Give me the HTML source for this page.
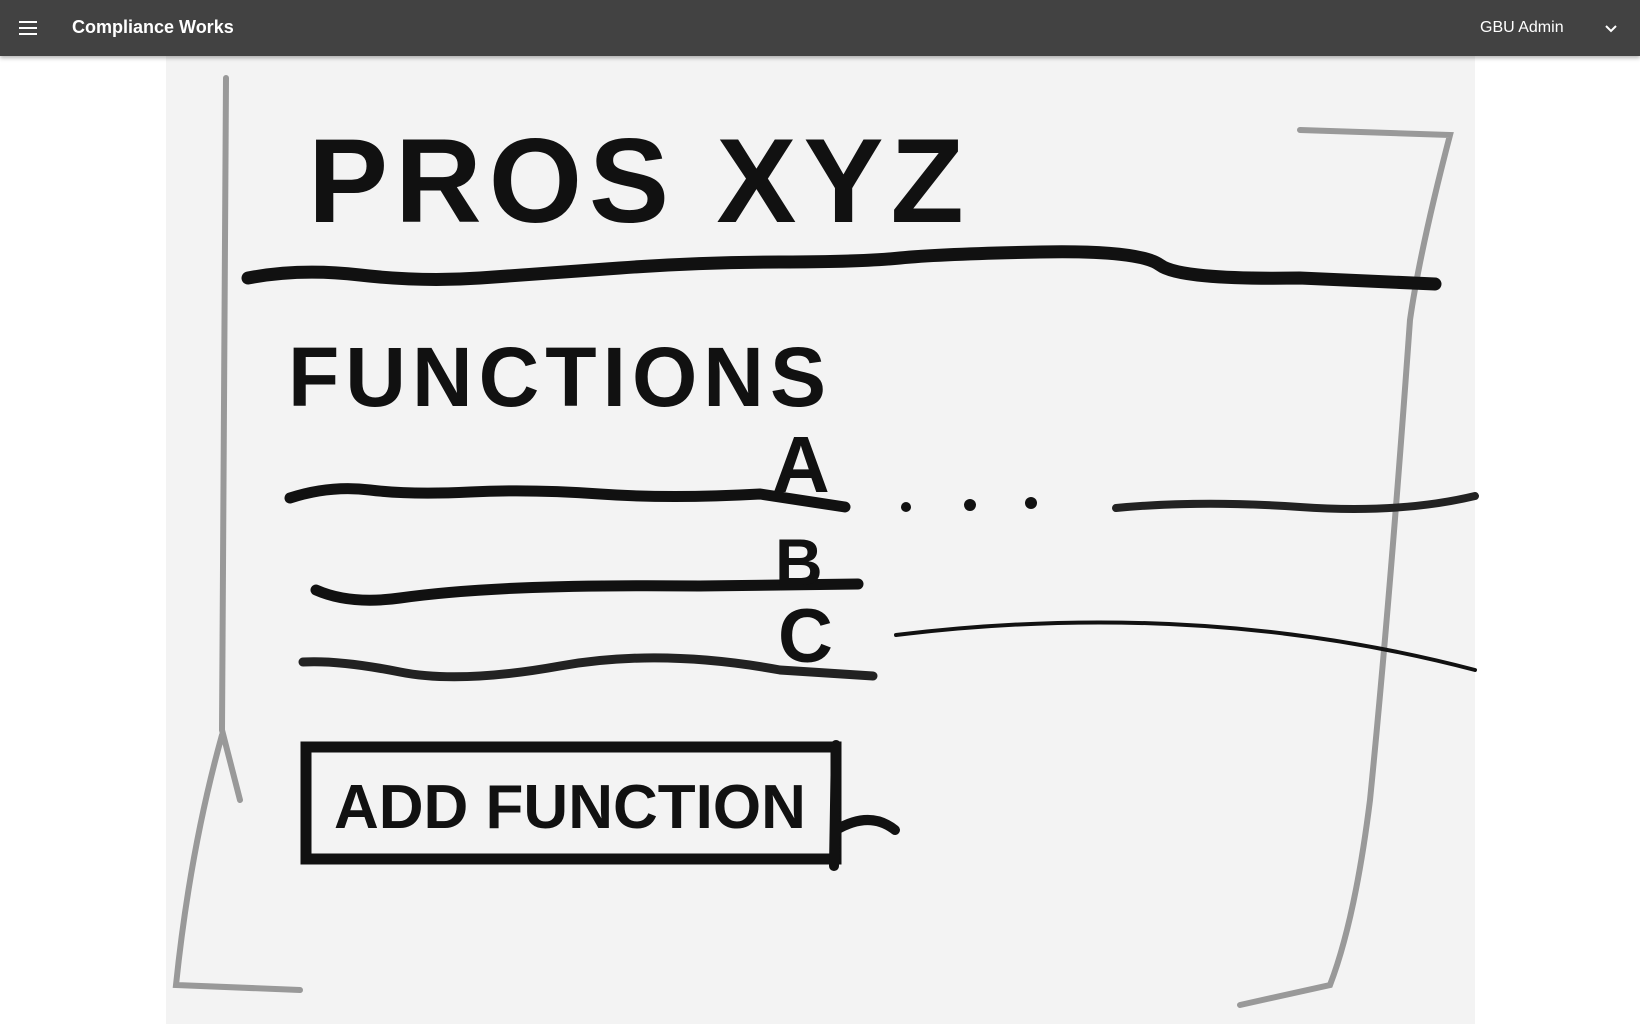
<!DOCTYPE html>
<html><head><meta charset="utf-8">
<style>
html,body{margin:0;padding:0;width:1640px;height:1024px;overflow:hidden;background:#fff;font-family:"Liberation Sans",sans-serif}
.bar{position:absolute;left:0;top:0;width:1640px;height:56px;background:#424242;box-shadow:0 2px 4px rgba(0,0,0,.3);z-index:2}
.title{position:absolute;left:72px;top:17px;color:#fff;font-size:18px;font-weight:bold}
.user{position:absolute;left:1480px;top:19px;color:#fff;font-size:16px}
.sketch{position:absolute;left:166px;top:56px;width:1309px;height:968px;background:#f3f3f3}
</style></head><body>
<div class="bar">
  <svg style="position:absolute;left:17px;top:17px" width="22" height="22" viewBox="0 0 22 22"><rect x="2" y="4" width="18" height="2" fill="#fff"/><rect x="2" y="10" width="18" height="2" fill="#fff"/><rect x="2" y="16" width="18" height="2" fill="#fff"/></svg>
  <div class="title">Compliance Works</div>
  <div class="user">GBU Admin</div>
  <svg style="position:absolute;left:1603px;top:20px" width="16" height="16" viewBox="0 0 16 16"><path d="M3 6 L8 11 L13 6" stroke="#fff" stroke-width="2" fill="none"/></svg>
</div>
<div class="sketch"></div>
<svg style="position:absolute;left:0;top:0" width="1640" height="1024">
  <g fill="none" stroke-linecap="round">
    <path d="M226 78 Q224 400 222 730 L240 800 M222 735 Q190 850 176 985 L300 990" stroke="#999" stroke-width="6"/>
    <path d="M1300 130 L1450 135 Q1420 250 1410 320 Q1390 600 1370 800 Q1355 920 1330 985 L1240 1005" stroke="#999" stroke-width="6"/>
    <path d="M248 278 Q300 268 360 275 T480 278 T620 268 T780 262 T900 258 T1040 252 T1160 265 T1300 278 L1435 284" stroke="#111" stroke-width="13"/>
    <path d="M290 498 Q330 485 370 490 T470 492 T600 494 T760 494 L845 507" stroke="#111" stroke-width="11"/>
    <path d="M316 590 Q350 605 400 598 T520 588 T700 586 L858 584" stroke="#111" stroke-width="11"/>
    <path d="M303 662 Q340 660 400 672 T560 666 T780 670 L873 676" stroke="#222" stroke-width="9"/>
    <path d="M1116 508 Q1200 500 1300 507 T1475 496" stroke="#222" stroke-width="8"/>
    <path d="M896 635 Q1200 598 1475 670" stroke="#111" stroke-width="4"/>
    <rect x="306" y="747" width="530" height="112" stroke="#111" stroke-width="11"/>
    <path d="M836 745 L834 866 M836 830 Q870 810 895 830" stroke="#111" stroke-width="10"/>
  </g>
  <g fill="#111">
    <circle cx="906" cy="507" r="5"/>
    <circle cx="970" cy="505" r="6"/>
    <circle cx="1031" cy="503" r="6"/>
  </g>
  <g font-family="Liberation Sans, sans-serif" font-weight="bold" fill="#111">
    <text x="308" y="222" font-size="120" letter-spacing="7">PROS XYZ</text>
    <text x="288" y="406" font-size="84" letter-spacing="6">FUNCTIONS</text>
    <text x="772" y="492" font-size="80">A</text>
    <text x="775" y="585" font-size="66">B</text>
    <text x="778" y="662" font-size="76">C</text>
    <text x="334" y="828" font-size="62">ADD FUNCTION</text>
  </g>
</svg>
</body></html>
